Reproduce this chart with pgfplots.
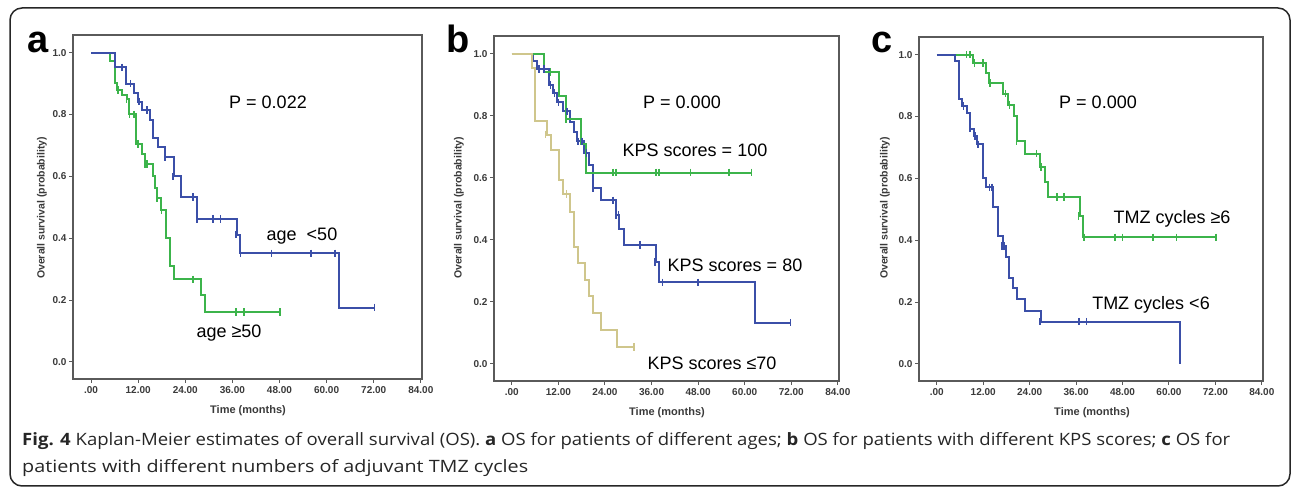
\documentclass[border=0pt]{standalone}
\usepackage{pgfplots}
\pgfplotsset{compat=1.18}
\usepackage{graphicx}
\usepackage{fontspec}
\setmainfont{Liberation Sans}
\newfontfamily\capfont{Open Sans}
\definecolor{kmblue}{HTML}{3B4FA8}
\definecolor{kmgreen}{HTML}{3CB44B}
\definecolor{kmtan}{HTML}{CFC68C}
\definecolor{axgray}{HTML}{5A5A5A}
\definecolor{tickgray}{HTML}{3A3A3A}

\pgfplotsset{
  km/.style={
    scale only axis,
    anchor=south west,
    xmin=-4.6, xmax=84.3,
    ymin=-0.055, ymax=1.057,
    xtick={0,12,24,36,48,60,72,84},
    xticklabels={.00,12.00,24.00,36.00,48.00,60.00,72.00,84.00},
    ytick={0,0.2,0.4,0.6,0.8,1.0},
    yticklabels={0.0,0.2,0.4,0.6,0.8,1.0},
    xtick pos=bottom, ytick pos=left,
    tick align=outside,
    major tick length=4pt,
    axis line style={axgray, line width=1.3pt},
    tick style={axgray, line width=1pt},
    ticklabel style={color=tickgray, font=\fontsize{10}{12}\selectfont\bfseries},
    yticklabel style={xshift=1pt},
    clip=false,
  },
  kmstep/.style={const plot, line width=2pt, mark=none, line join=miter},
  kmcens/.style={only marks, mark=|, mark size=3.8pt, mark options={line width=1.6pt}},
}

\begin{document}
\begin{tikzpicture}
\useasboundingbox (0pt,0pt) rectangle (1292pt,492pt);
\draw[line width=1.5pt, rounded corners=12pt, black!85] (10pt,6pt) rectangle (1290pt,484pt);

% ---------- panel a ----------
\begin{axis}[km, at={(73pt,113pt)}, width=349pt, height=344pt]
\addplot[kmstep, kmgreen] coordinates {
 (0,1) (4.9,0.974) (6.0,0.903) (6.5,0.88) (7.9,0.864) (9.1,0.85) (9.7,0.80)
 (11.5,0.705) (13.0,0.673) (13.8,0.64) (15.8,0.60) (16.3,0.563) (16.8,0.53)
 (17.9,0.49) (19.0,0.40) (20.1,0.31) (21.0,0.267) (28.0,0.215) (29.1,0.161) (48.2,0.161)};
\addplot[kmcens, kmgreen] coordinates {
 (6.8,0.88) (9.0,0.85) (9.8,0.80) (10.9,0.80) (11.9,0.705) (13.8,0.64) (14.2,0.64)
 (16.8,0.53) (17.9,0.49) (26.0,0.267) (36.9,0.161) (39.0,0.161) (48.2,0.161)};
\addplot[kmstep, kmblue] coordinates {
 (0,1) (6.0,0.952) (9.0,0.90) (11.0,0.869) (12.0,0.842) (13.0,0.815) (15.1,0.783)
 (15.9,0.724) (17.0,0.695) (18.9,0.662) (21.0,0.60) (23.0,0.533) (27.1,0.463)
 (37.1,0.412) (37.9,0.351) (63.1,0.176) (72.2,0.176)};
\addplot[kmcens, kmblue] coordinates {
 (7.9,0.952) (10.0,0.90) (12.2,0.842) (14.2,0.815) (18.8,0.662) (20.8,0.60)
 (26.0,0.533) (27.0,0.463) (31.1,0.463) (33.0,0.463) (36.9,0.412) (38.1,0.351)
 (46.0,0.351) (56.0,0.351) (62.1,0.351) (72.2,0.176)};
\end{axis}

% ---------- panel b ----------
\begin{axis}[km, at={(494pt,111pt)}, width=345pt, height=345pt]
\addplot[kmstep, kmblue] coordinates {
 (0,1) (5.5,0.975) (6.4,0.95) (9.6,0.90) (10.7,0.873) (11.7,0.843) (13.2,0.814)
 (15.1,0.78) (16.1,0.746) (16.8,0.717) (18.7,0.68) (20.0,0.642) (20.9,0.567)
 (22.9,0.527) (26.8,0.48) (27.7,0.434) (28.9,0.384) (37.1,0.328) (37.9,0.263)
 (62.7,0.133) (71.8,0.133)};
\addplot[kmcens, kmblue] coordinates {
 (7.0,0.95) (8.3,0.95) (10.0,0.90) (11.0,0.873) (12.0,0.843) (14.2,0.814)
 (17.1,0.717) (18.1,0.717) (19.2,0.68) (20.9,0.567) (26.0,0.527) (26.8,0.48)
 (27.5,0.48) (33.0,0.384) (36.9,0.328) (38.8,0.263) (47.9,0.263) (71.8,0.133)};
\addplot[kmstep, kmgreen] coordinates {
 (0,1) (8.2,0.94) (12.2,0.865) (14.0,0.79) (17.9,0.71) (19.0,0.617) (61.8,0.617)};
\addplot[kmcens, kmgreen] coordinates {
 (10.0,0.94) (13.9,0.79) (26.0,0.617) (26.8,0.617) (37.1,0.617) (37.9,0.617)
 (46.0,0.617) (55.9,0.617) (61.8,0.617)};
\addplot[kmstep, kmtan] coordinates {
 (0,1) (5.1,0.954) (6.0,0.782) (9.1,0.739) (10.0,0.69) (12.1,0.594) (13.1,0.548)
 (15.1,0.489) (15.9,0.378) (17.1,0.325) (18.9,0.271) (19.9,0.219) (20.9,0.163)
 (22.9,0.108) (27.0,0.054) (31.5,0.054)};
\addplot[kmcens, kmtan] coordinates {(8.7,0.739) (14.1,0.548) (31.5,0.054)};
\end{axis}

% ---------- panel c ----------
\begin{axis}[km, at={(919pt,111pt)}, width=344pt, height=344pt]
\addplot[kmstep, kmgreen] coordinates {
 (0,1) (9.3,0.973) (12.7,0.942) (13.6,0.908) (17.0,0.874) (18.5,0.838) (19.9,0.80)
 (20.8,0.72) (22.8,0.68) (26.7,0.637) (27.9,0.589) (28.8,0.54) (37.0,0.478)
 (37.8,0.409) (72.1,0.409)};
\addplot[kmcens, kmgreen] coordinates {
 (7.7,1) (8.6,1) (9.7,0.973) (11.9,0.973) (13.8,0.908) (17.8,0.874) (18.8,0.838)
 (20.6,0.72) (25.8,0.68) (27.0,0.637) (31.0,0.54) (32.8,0.54) (36.6,0.478)
 (38.0,0.409) (46.0,0.409) (48.0,0.409) (55.9,0.409) (61.9,0.409) (72.1,0.409)};
\addplot[kmstep, kmblue] coordinates {
 (0,1) (4.7,0.978) (5.8,0.858) (6.4,0.833) (7.7,0.81) (8.6,0.761) (9.5,0.736)
 (10.3,0.71) (11.9,0.60) (12.7,0.571) (14.6,0.508) (15.9,0.413) (17.0,0.381)
 (17.9,0.347) (18.7,0.277) (19.8,0.244) (20.6,0.21) (22.8,0.172) (26.8,0.137)
 (62.9,0)};
\addplot[kmcens, kmblue] coordinates {
 (6.9,0.833) (8.6,0.761) (9.9,0.736) (10.7,0.71) (13.6,0.571) (14.2,0.571)
 (16.8,0.381) (17.4,0.381) (26.6,0.137) (36.8,0.137) (38.7,0.137)};
\end{axis}

% ---------- text ----------
\begin{scope}[every node/.style={inner sep=0pt}]
\node[anchor=base, font=\fontsize{38}{40}\selectfont\bfseries] at (38pt,439pt) {a};
\node[anchor=base, font=\fontsize{38}{40}\selectfont\bfseries] at (458pt,439pt) {b};
\node[anchor=base, font=\fontsize{38}{40}\selectfont\bfseries] at (882pt,439pt) {c};

\foreach \x in {42,459,885}
  \node[rotate=90, font=\fontsize{10.5}{12}\selectfont\bfseries, color=tickgray] at (\x pt,284pt) {Overall survival (probability)};
\node[font=\fontsize{11}{13}\selectfont\bfseries, color=tickgray] at (248pt,81pt) {Time (months)};
\node[font=\fontsize{11}{13}\selectfont\bfseries, color=tickgray] at (667pt,79pt) {Time (months)};
\node[font=\fontsize{11}{13}\selectfont\bfseries, color=tickgray] at (1092pt,79pt) {Time (months)};

\node[font=\fontsize{18}{20}\selectfont] at (268pt,390pt) {P = 0.022};
\node[font=\fontsize{18}{20}\selectfont] at (302pt,256pt) {age\ \ <50};
\node[font=\fontsize{18}{20}\selectfont] at (229pt,159pt) {age ≥50};

\node[font=\fontsize{18}{20}\selectfont] at (682pt,390pt) {P = 0.000};
\node[font=\fontsize{18}{20}\selectfont] at (695pt,342pt) {KPS scores = 100};
\node[font=\fontsize{18}{20}\selectfont] at (735pt,227pt) {KPS scores = 80};
\node[font=\fontsize{18}{20}\selectfont] at (712pt,129pt) {KPS scores ≤70};

\node[font=\fontsize{18}{20}\selectfont] at (1098pt,390pt) {P = 0.000};
\node[font=\fontsize{18}{20}\selectfont] at (1172pt,273pt) {TMZ cycles ≥6};
\node[font=\fontsize{18}{20}\selectfont] at (1151pt,187pt) {TMZ cycles <6};

\node[anchor=base west, font=\capfont\fontsize{17}{20}\selectfont, color=black!85] at (22pt,46pt)
  {\resizebox{1208pt}{\height}{\textbf{Fig. 4} Kaplan-Meier estimates of overall survival (OS). \textbf{a} OS for patients of different ages; \textbf{b} OS for patients with different KPS scores; \textbf{c} OS for}};
\node[anchor=base west, font=\capfont\fontsize{17}{20}\selectfont, color=black!85] at (22pt,19pt)
  {\resizebox{506pt}{\height}{patients with different numbers of adjuvant TMZ cycles}};
\end{scope}
\end{tikzpicture}
\end{document}
